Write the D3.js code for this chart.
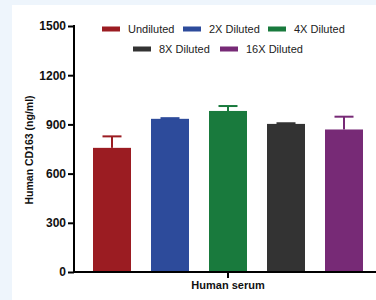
<!DOCTYPE html>
<html><head><meta charset="utf-8">
<script src="https://cdn.jsdelivr.net/npm/d3@7"></script>
<style>html,body{margin:0;padding:0;background:#eef5fc;}svg{display:block;}</style>
</head><body>
<svg id="c" width="376" height="300"></svg>
<script>
const categories = ["Undiluted","2X Diluted","4X Diluted","8X Diluted","16X Diluted"];
const values = [757, 934, 982, 903, 869];
const errors = [70, 4, 30, 4, 78];
const colors = ["#9b1c22","#2d4b9b","#197a3d","#333333","#772a76"];
const yTicks = [0,300,600,900,1200,1500];
const groupLabel = "Human serum";
const yTitle = "Human CD163 (ng/ml)";

const svg = d3.select("#c");
svg.append("rect").attr("x",12).attr("y",5).attr("width",364).attr("height",295).attr("fill","#ffffff");

const y = d3.scaleLinear().domain([0,1500]).range([272,26]);
const x = d3.scaleBand().domain(categories).range([81.4,374.6]).paddingInner(0.345).paddingOuter(0.2);

const g = svg.append("g");
g.selectAll("rect.bar").data(categories).join("rect")
  .attr("x",d=>x(d)).attr("width",x.bandwidth())
  .attr("y",(d,i)=>y(values[i])).attr("height",(d,i)=>y(0)-y(values[i]))
  .attr("fill",(d,i)=>colors[i]);
const capW = 19;
g.selectAll("line.stem").data(categories).join("line")
  .attr("x1",d=>x(d)+x.bandwidth()/2).attr("x2",d=>x(d)+x.bandwidth()/2)
  .attr("y1",(d,i)=>y(values[i])).attr("y2",(d,i)=>y(values[i]+errors[i]))
  .attr("stroke",(d,i)=>colors[i]).attr("stroke-width",2);
g.selectAll("line.cap").data(categories).join("line")
  .attr("x1",d=>x(d)+x.bandwidth()/2-capW/2).attr("x2",d=>x(d)+x.bandwidth()/2+capW/2)
  .attr("y1",(d,i)=>y(values[i]+errors[i])).attr("y2",(d,i)=>y(values[i]+errors[i]))
  .attr("stroke",(d,i)=>colors[i]).attr("stroke-width",2);

const yAxis = d3.axisLeft(y).tickValues(yTicks).tickSize(6).tickPadding(2).tickFormat(d3.format("d"));
const ya = svg.append("g").attr("transform","translate(74,0)").call(yAxis);
ya.select(".domain").attr("stroke","#000").attr("stroke-width",2).attr("d","M0,25V273");
ya.selectAll(".tick line").attr("stroke","#000").attr("stroke-width",2);
ya.selectAll(".tick text").attr("font-family","Liberation Sans, Arial, sans-serif").attr("font-size",12).attr("font-weight","bold").attr("fill","#111");

const xCenter = d3.scaleBand().domain([groupLabel]).range([x(categories[0]), x(categories[4])+x.bandwidth()]);
const xAxis = d3.axisBottom(xCenter).tickSize(6).tickPadding(3);
const xa = svg.append("g").attr("transform","translate(0,272)").call(xAxis);
xa.select(".domain").attr("stroke","#000").attr("stroke-width",2).attr("d","M73,0H376");
xa.selectAll(".tick line").attr("stroke","#000").attr("stroke-width",2);
xa.selectAll(".tick text").attr("font-family","Liberation Sans, Arial, sans-serif").attr("font-size",11).attr("font-weight","bold").attr("fill","#111");

svg.append("text").attr("transform","translate(33,150) rotate(-90)").attr("text-anchor","middle")
  .attr("font-family","Liberation Sans, Arial, sans-serif").attr("font-size",10.5).attr("font-weight","bold").attr("fill","#111")
  .text(yTitle);

const legPos = [[102,29],[183,29],[268,29],[133,49],[220,49]];
const leg = svg.append("g");
categories.forEach((c,i)=>{
  const [lx,ly]=legPos[i];
  leg.append("rect").attr("x",lx).attr("y",ly-2.5).attr("width",18).attr("height",5).attr("fill",colors[i]);
  leg.append("text").attr("x",lx+26).attr("y",ly+4).attr("font-family","Liberation Sans, Arial, sans-serif")
    .attr("font-size",11).attr("fill","#222").text(c);
});
</script>
</body></html>
